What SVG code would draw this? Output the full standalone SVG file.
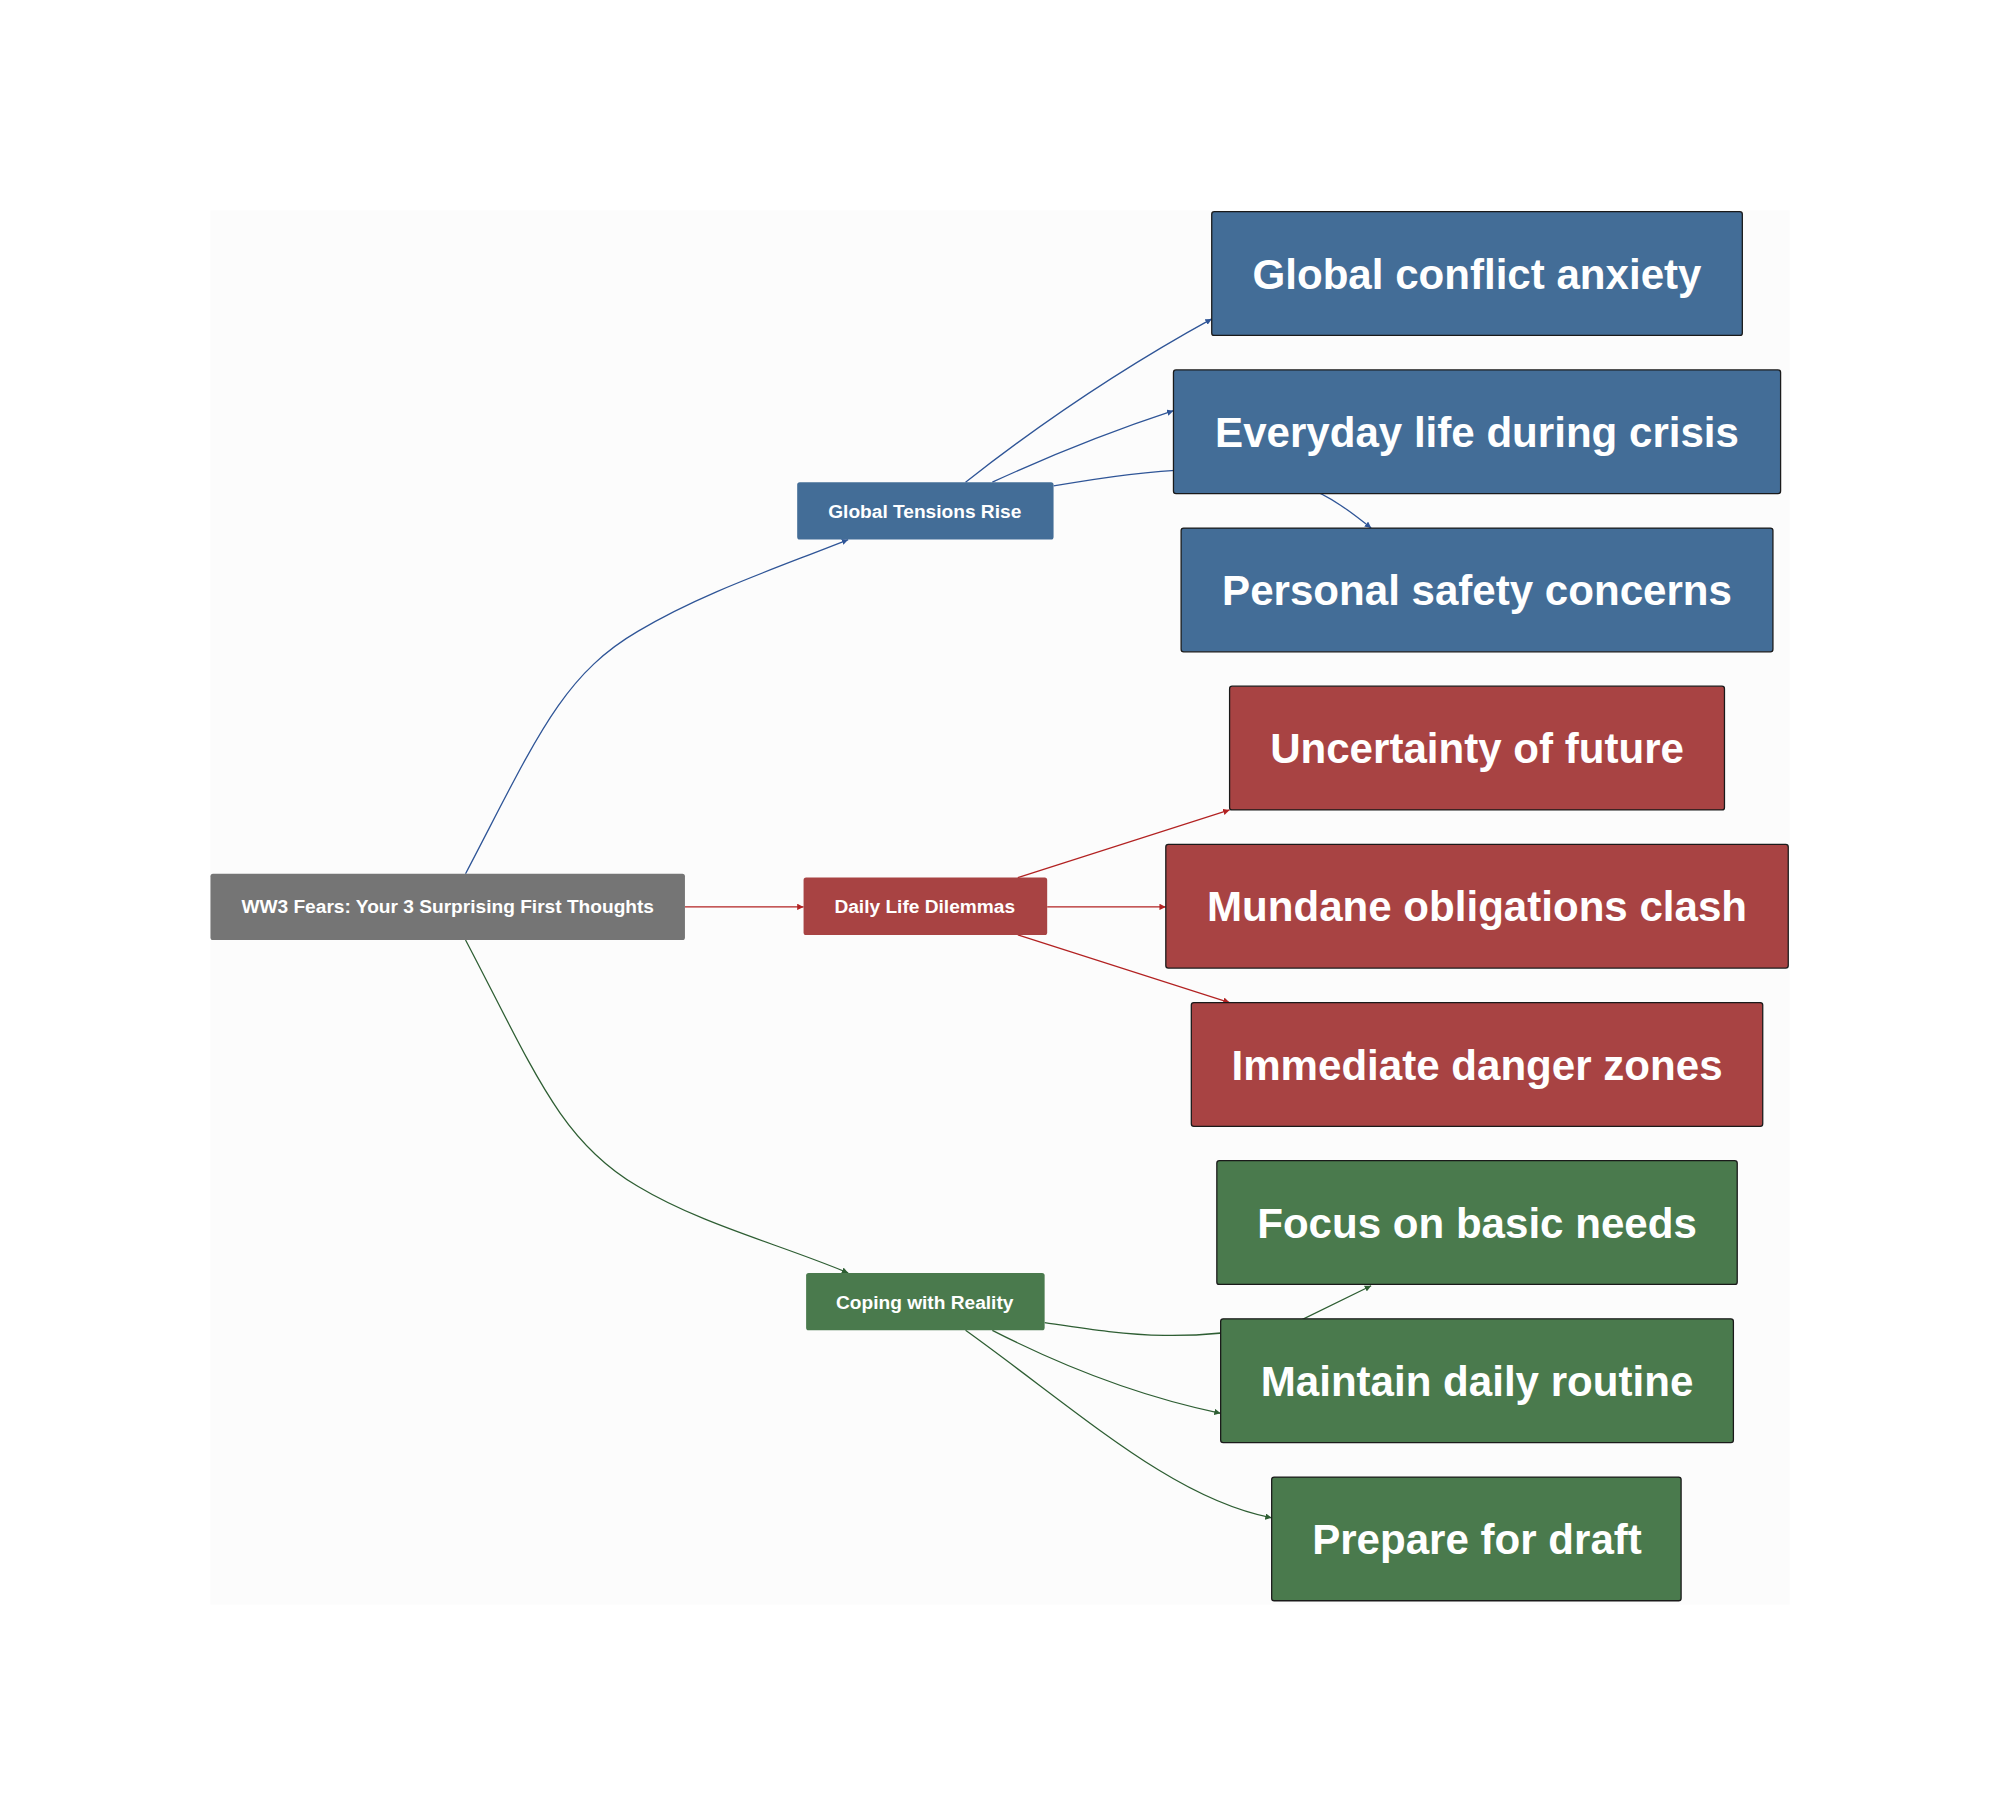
<svg xmlns="http://www.w3.org/2000/svg" width="2000" height="1814" viewBox="0 0 2000 1814">
<style>
.n rect{rx:2px}
.t{font-family:"Liberation Sans",Arial,sans-serif;font-weight:bold;fill:#fff;text-anchor:middle;dominant-baseline:central}
.s{font-size:15px}.l{font-size:33px}
.b{fill:#436d97}.r{fill:#a84343}.g{fill:#4a7a4d}
.leaf{stroke:#1a1a1a;stroke-width:1}
.e{fill:none;stroke-width:1}
</style>
<defs>
<marker id="ab" viewBox="0 0 6 6" refX="6" refY="3" markerWidth="5" markerHeight="5" orient="auto"><path d="M0,0L6,3L0,6z" fill="#2f5597"/></marker>
<marker id="ar" viewBox="0 0 6 6" refX="6" refY="3" markerWidth="5" markerHeight="5" orient="auto"><path d="M0,0L6,3L0,6z" fill="#b22222"/></marker>
<marker id="ag" viewBox="0 0 6 6" refX="6" refY="3" markerWidth="5" markerHeight="5" orient="auto"><path d="M0,0L6,3L0,6z" fill="#2e5e33"/></marker>
</defs>
<rect width="2000" height="1814" fill="#fff"/>
<g transform="scale(1.2755)">
<rect x="165" y="165" width="1238" height="1093" fill="#fcfcfc"/>
<g id="connectors">
<path class="e" stroke="#2f5597" marker-end="url(#ab)" d="M365,685 C420,580 440,530 500,495 C550,465 610,445 665,423"/>
<path class="e" stroke="#b22222" marker-end="url(#ar)" d="M537,711 L630,711"/>
<path class="e" stroke="#2e5e33" marker-end="url(#ag)" d="M365,737 C420,842 440,895 500,930 C550,960 610,975 665,998"/>
<path class="e" stroke="#2f5597" marker-end="url(#ab)" d="M757,378 Q850,305 950,250"/>
<path class="e" stroke="#2f5597" marker-end="url(#ab)" d="M778,378 Q850,345 920,322"/>
<path class="e" stroke="#2f5597" marker-end="url(#ab)" d="M826,381 C900,368 970,360 1020,380 C1045,390 1060,402 1075,414"/>
<path class="e" stroke="#b22222" marker-end="url(#ar)" d="M798,688 L964,635"/>
<path class="e" stroke="#b22222" marker-end="url(#ar)" d="M821,711 L914,711"/>
<path class="e" stroke="#b22222" marker-end="url(#ar)" d="M798,733 L964,786"/>
<path class="e" stroke="#2e5e33" marker-end="url(#ag)" d="M819,1037 C880,1046 930,1055 1020,1035 L1075,1008"/>
<path class="e" stroke="#2e5e33" marker-end="url(#ag)" d="M778,1043 Q870,1090 957,1108"/>
<path class="e" stroke="#2e5e33" marker-end="url(#ag)" d="M757,1043 C850,1110 920,1175 997,1190"/>
</g>
<g id="root" class="n"><rect x="165" y="685" width="372" height="52" fill="#757575"/><text class="t s" x="351" y="711">WW3 Fears: Your 3 Surprising First Thoughts</text></g>
<g id="gtr" class="n"><rect class="b" x="625" y="378" width="201" height="45"/><text class="t s" x="725" y="401">Global Tensions Rise</text></g>
<g id="dld" class="n"><rect class="r" x="630" y="688" width="191" height="45"/><text class="t s" x="725" y="711">Daily Life Dilemmas</text></g>
<g id="cwr" class="n"><rect class="g" x="632" y="998" width="187" height="45"/><text class="t s" x="725" y="1021">Coping with Reality</text></g>
<g id="gca" class="n"><rect class="b leaf" x="950" y="166" width="416" height="97"/><text class="t l" x="1158" y="215">Global conflict anxiety</text></g>
<g id="edc" class="n"><rect class="b leaf" x="920" y="290" width="476" height="97"/><text class="t l" x="1158" y="339">Everyday life during crisis</text></g>
<g id="psc" class="n"><rect class="b leaf" x="926" y="414" width="464" height="97"/><text class="t l" x="1158" y="463">Personal safety concerns</text></g>
<g id="uof" class="n"><rect class="r leaf" x="964" y="538" width="388" height="97"/><text class="t l" x="1158" y="587">Uncertainty of future</text></g>
<g id="moc" class="n"><rect class="r leaf" x="914" y="662" width="488" height="97"/><text class="t l" x="1158" y="711">Mundane obligations clash</text></g>
<g id="idz" class="n"><rect class="r leaf" x="934" y="786" width="448" height="97"/><text class="t l" x="1158" y="835">Immediate danger zones</text></g>
<g id="fbn" class="n"><rect class="g leaf" x="954" y="910" width="408" height="97"/><text class="t l" x="1158" y="959">Focus on basic needs</text></g>
<g id="mdr" class="n"><rect class="g leaf" x="957" y="1034" width="402" height="97"/><text class="t l" x="1158" y="1083">Maintain daily routine</text></g>
<g id="pfd" class="n"><rect class="g leaf" x="997" y="1158" width="321" height="97"/><text class="t l" x="1158" y="1207">Prepare for draft</text></g>
</g>
</svg>
